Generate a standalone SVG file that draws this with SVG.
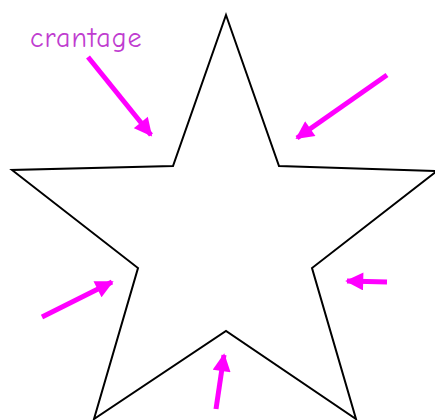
<svg xmlns="http://www.w3.org/2000/svg" width="435" height="420" viewBox="0 0 435 420">
<style>
.star{fill:none;stroke:#000;stroke-width:2;stroke-linejoin:miter}
.arr{stroke:#f0f;stroke-width:5;fill:none}
.lbl{font-family:"Comic Neue","DejaVu Sans",sans-serif;font-size:28px;fill:#c03cd0;letter-spacing:1px}
</style>
<defs>
<marker id="ah" viewBox="0 0 10 10" refX="9" refY="5" markerWidth="3.8" markerHeight="3.6" orient="auto" markerUnits="strokeWidth">
<path d="M0,0 L10,5 L0,10 Z" fill="#f0f"/>
</marker>
</defs>
<rect width="435" height="420" fill="#fff"/>
<g id="star">
<polygon class="star" points="226,15 279,166 437,171 312,268 356,419 226,331 94,419 138,268 12,170 173,166"/>
</g>
<g id="label">
<text class="lbl" x="30" y="47">crantage</text>
</g>
<g id="connectors">
<line class="arr" x1="88" y1="57" x2="151" y2="135" marker-end="url(#ah)"/>
<line class="arr" x1="387" y1="75" x2="297" y2="138" marker-end="url(#ah)"/>
<line class="arr" x1="42" y1="317" x2="112" y2="282" marker-end="url(#ah)"/>
<line class="arr" x1="387" y1="282" x2="347" y2="281" marker-end="url(#ah)"/>
<line class="arr" x1="216" y1="409" x2="224" y2="355" marker-end="url(#ah)"/>
</g>
</svg>
